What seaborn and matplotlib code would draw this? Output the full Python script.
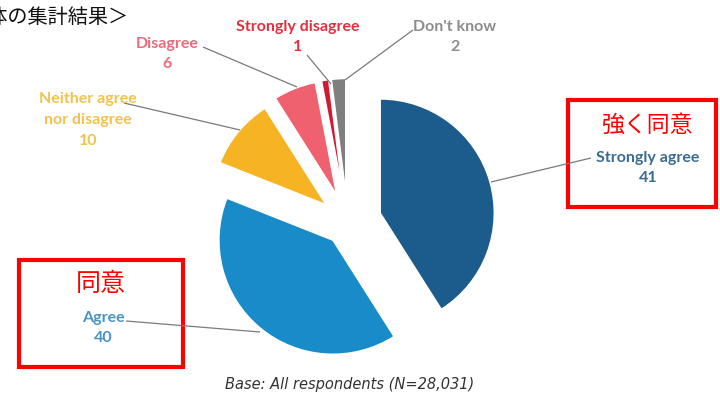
import matplotlib
matplotlib.use("Agg")
import matplotlib.pyplot as plt
import seaborn as sns
from matplotlib.patches import Rectangle

# ---- data ----
categories = ["Strongly agree", "Agree", "Neither agree\nnor disagree",
              "Disagree", "Strongly disagree", "Don't know"]
values = [41, 40, 10, 6, 1, 2]
slice_colors = ["#1B5C8C", "#1A8BC9", "#F6B324", "#F0616F", "#CF1A31", "#7F7F7F"]
label_colors = ["#3A6C92", "#4B93C3", "#F3C24C", "#EA6A7C", "#E0303F", "#8C8C8C"]
jp_title = "＜全体の集計結果＞"
jp_strong = "強く同意"
jp_agree = "同意"
caption = "Base: All respondents (N=28,031)"

sns.set_theme(style="white")
plt.rcParams["font.family"] = ["Noto Sans CJK JP", "DejaVu Sans"]

W, H = 720, 398
fig = plt.figure(figsize=(7.2, 3.98), dpi=100)
ax = fig.add_axes([0, 0, 1, 1])

def py(y):
    return H - y

R = 114
cx, cy = 347.6, py(222.5)
# explode offsets in the same units as the radius (pixels here)
explode_px = [34, 23, 28, 30, 30, 30]
ax.pie(values, colors=slice_colors, explode=explode_px, startangle=90,
       counterclock=False, radius=R, center=(cx, cy),
       wedgeprops=dict(edgecolor="white", linewidth=1.0), frame=False)
ax.set_xlim(0, W)
ax.set_ylim(0, H)
ax.set_aspect("equal", adjustable="box")
ax.axis("off")

# label positions (pixel centres) and leader lines
label_pos = [(648, 168), (103, 328), (88, 120), (167, 54), (298, 37), (455, 37)]
leaders = [((591, 158), (491, 182)),
           ((126, 321), (260, 332)),
           ((124, 103), (240, 130)),
           ((203, 47), (297, 87)),
           ((307, 55), (331, 84)),
           ((413, 30), (345, 80))]
lfont = "Lato"
for cat, v, (lx, ly), col, (p0, p1) in zip(categories, values, label_pos,
                                            label_colors, leaders):
    ax.text(lx, py(ly), f"{cat}\n{v}", ha="center", va="center",
            color=col, fontsize=11.5, fontweight="bold", family=lfont,
            linespacing=1.6)
    ax.plot([p0[0], p1[0]], [py(p0[1]), py(p1[1])], color="#7A7A7A",
            linewidth=0.9, solid_capstyle="butt")

# red boxes
for (x0, y0, x1, y1) in [(568, 100, 716, 207), (19, 260, 183, 367)]:
    ax.add_patch(Rectangle((x0, py(y1)), x1 - x0, y1 - y0, fill=False,
                           edgecolor="#FF0000", linewidth=3.0, clip_on=False))

ax.text(648, py(125), jp_strong, ha="center", va="center", color="#FF0000",
        fontsize=16.5)
ax.text(101, py(284), jp_agree, ha="center", va="center", color="#FF0000",
        fontsize=18)

# partially cut-off heading at top-left (as in the reference)
ax.text(-52, py(17), jp_title, ha="left", va="center", color="#111111",
        fontsize=14.5, clip_on=False)

ax.text(350, py(385), caption, ha="center", va="center", color="#333333",
        fontsize=10.5, style="italic", family="DejaVu Sans")

fig.savefig("out.png", dpi=100)
